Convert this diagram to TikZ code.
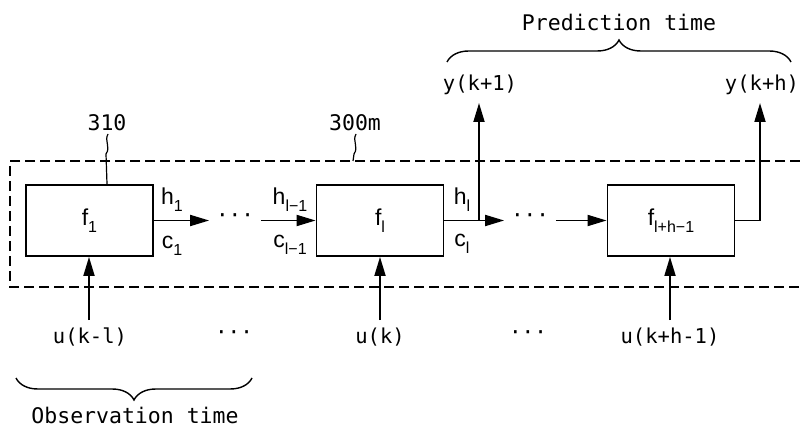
\documentclass[tikz,border=0pt]{standalone}
\usepackage{fontspec}
\setmainfont{DejaVu Sans Mono}
\newfontfamily\labfont{Liberation Sans}
\usetikzlibrary{arrows.meta,decorations.pathreplacing}
\newcommand\mysub[1]{\raisebox{-0.3em}{\fontsize{16}{16}\selectfont #1}}
\begin{document}
\begin{tikzpicture}[x=1pt,y=-1pt,
  line width=1.8pt,
  blk/.style={draw, line width=1.8pt, minimum width=127pt, minimum height=71pt, inner sep=0pt, font=\labfont\fontsize{23}{23}\selectfont},
  lab/.style={font=\labfont\fontsize{23}{23}\selectfont, inner sep=0pt},
  mono/.style={font=\fontsize{20.5}{20.5}\selectfont, inner sep=0pt},
  dots/.style={font=\fontsize{21}{21}\selectfont, inner sep=6pt},
  arr/.style={-{Triangle[length=19pt,width=11pt]}, line width=1.8pt},
  brc/.style={decorate, decoration={brace, amplitude=22pt}, line width=1.4pt}]
\useasboundingbox (0,0) rectangle (800,430);
% dashed frame (open to the right edge)
\draw[dash pattern=on 10pt off 5pt, line width=1.6pt] (800,161) -- (10,161) -- (10,287) -- (800,287);
% blocks
\node[blk] (f1) at (89.5,220.5) {f\mysub{1}};
\node[blk] (fl) at (380,220.5) {f\mysub{l}};
\node[blk] (fL) at (671,220.5) {f\mysub{l+h−1}};
% state labels
\node[lab] (h1) at (172,200) {h\mysub{1}};
\node[lab] (c1) at (172,246) {c\mysub{1}};
\node[lab] (hm) at (290,200) {h\mysub{l−1}};
\node[lab] (cm) at (290,245) {c\mysub{l−1}};
\node[lab] (hl) at (462,200) {h\mysub{l}};
\node[lab] (cl) at (462,244) {c\mysub{l}};
% dots in chain
\node[dots] (d1) at (235,218) {···};
\node[dots] (d2) at (530,218) {···};
\draw[arr] (f1.east) -- (f1.east -| d1.west);
\draw[arr] (fl.west -| d1.east) -- (fl.west);
\coordinate (j1) at (479,220.5);
\coordinate (j2) at (760,220.5);
\draw[arr] (fl.east) -- (fl.east -| d2.west);
\draw[arr] (fL.west -| d2.east) -- (fL.west);
% outputs
\node[mono] (y1) at (480,85) {y(k+1)};
\node[mono] (yh) at (762,85) {y(k+h)};
\draw[arr] (j1) -- (479,103);
\draw[arr] (fL.east) -- (j2) -- (760,103);
% inputs
\node[mono] (u1) at (90,337) {u(k-l)};
\node[mono] (u2) at (380,337) {u(k)};
\node[mono] (u3) at (670,337) {u(k+h-1)};
\node[dots] (d3) at (234,335) {···};
\node[dots] (d4) at (528,335) {···};
\draw[arr] (89,320) -- (f1.south -| 89,0);
\draw[arr] (380,320) -- (fl.south);
\draw[arr] (670,320) -- (fL.south -| 670,0);
% reference numerals
\node[mono, font=\fontsize{21.5}{21.5}\selectfont] (n310) at (107,123) {310};
\node[mono, font=\fontsize{21.5}{21.5}\selectfont] (n300) at (355,123) {300m};
\draw[line width=1.2pt] (108,134) .. controls (104,141) and (111,147) .. (106,154) -- (107,184);
\draw[line width=1.2pt] (356,134) .. controls (352,141) and (359,147) .. (354,154) -- (353,161);
% braces
\draw[brc] (447,62) -- (791,62);
\node[font=\fontsize{21.5}{21.5}\selectfont, inner sep=0pt] (pt) at (619,22) {Prediction time};
\draw[brc] (252,378) -- (16,378);
\node[font=\fontsize{21.5}{21.5}\selectfont, inner sep=0pt] (ot) at (135,415) {Observation time};
\end{tikzpicture}
\end{document}
